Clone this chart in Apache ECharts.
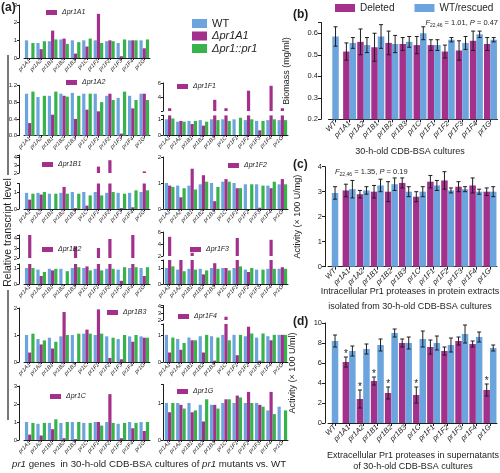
<!DOCTYPE html>
<html><head><meta charset="utf-8">
<script src="https://cdn.jsdelivr.net/npm/echarts@6.0.0/dist/echarts.min.js"></script>
<style>html,body{margin:0;padding:0;background:#fff}#c{width:500px;height:473px}</style>
</head><body><div id="c"></div>
<script>
// ---------- DATA ----------
const genes = ['pr1A1','pr1A2','pr1B1','pr1B2','pr1B3','pr1C','pr1F1','pr1F2','pr1F3','pr1F4','pr1G'];
const bdCats = ['WT','pr1A1','pr1A2','pr1B1','pr1B2','pr1B3','pr1C','pr1F1','pr1F2','pr1F3','pr1F4','pr1G'];

// (a) relative transcript levels: WT, deletion mutant, rescued
const wt_A1  = [1.0,0.85,0.95,1.05,1.0,1.0,1.0,0.95,0.85,1.0,1.0];
const mut_A1 = [0,0.5,1.55,1.1,0.25,0.65,2.5,1.0,0.1,1.0,0.55];
const res_A1 = [0.85,0.95,1.05,0.8,0.9,1.1,0.85,0.95,1.05,1.0,1.05];

const wt_A2  = [1.0,0.92,0.95,1.0,1.02,1.0,1.0,0.95,0.9,0.95,1.0];
const mut_A2 = [0.3,0,0.5,0.95,0.4,0.62,0.58,1.0,0.05,0.65,1.0];
const res_A2 = [1.05,0.95,1.05,0.93,0.95,1.0,0.8,0.85,1.05,0.85,0.85];

const wt_F1  = [1.0,0.85,0.9,0.95,1.0,1.0,1.0,0.95,0.9,0.95,0.95];
const mut_F1 = [2.4,0.9,0.7,0.6,3.6,2.4,0,4.9,0.3,5.6,2.4];
const res_F1 = [1.05,0.85,0.9,0.85,0.95,0.9,1.1,1.0,0.9,1.0,0.95];

const wt_B1  = [0.95,0.95,0.9,0.95,1.0,1.0,1.0,0.95,0.95,0.95,1.0];
const mut_B1 = [0.55,0.85,0,1.3,0.05,0.2,2.8,3.6,0.05,0.1,2.2];
const res_B1 = [0.9,1.0,0.9,0.9,0.9,0.8,0.8,1.0,0.9,1.1,1.1];

const wt_F2  = [1.0,0.9,0.9,0.95,1.0,1.05,1.0,0.95,0.95,0.9,0.95];
const mut_F2 = [0.9,0.45,1.55,1.3,0.3,1.15,0.8,0,0.05,0.8,1.15];
const res_F2 = [0.85,0.8,0.75,1.05,0.85,1.05,0.8,0.95,0.9,1.05,0.95];

const wt_B2  = [1.0,0.9,0.95,0.95,1.0,1.0,0.95,0.95,0.9,1.0,1.0];
const mut_B2 = [4.3,0.5,0.85,0,3.1,1.1,3.0,3.9,0.2,4.3,0.5];
const res_B2 = [1.0,0.75,0.95,0.8,1.05,0.85,0.85,0.95,1.05,1.05,1.05];

const wt_F3  = [1.0,0.9,0.95,0.95,1.0,1.0,1.0,0.9,0.9,0.95,0.95];
const mut_F3 = [5.2,1.7,2.55,0.6,1.3,1.0,5.0,0.75,0,4.7,1.05];
const res_F3 = [1.1,0.8,0.9,0.85,0.95,0.85,1.1,1.0,0.9,0.95,0.95];

const wt_B3  = [1.0,0.85,0.9,0.95,1.0,1.05,1.0,0.95,0.85,0.95,0.95];
const mut_B3 = [0.35,0.65,0.5,1.85,0,1.2,1.95,0.15,0.1,0.75,0.9];
const res_B3 = [1.05,0.8,0.75,1.0,1.05,1.05,1.05,0.9,1.0,1.0,0.9];

const wt_F4  = [1.0,0.85,0.9,0.95,0.95,1.0,1.0,0.95,0.9,0.95,1.0];
const mut_F4 = [0.35,0.45,0.8,0.35,0.05,2.5,0.25,1.3,0.05,0.8,1.0];
const res_F4 = [0.9,0.7,0.8,1.0,0.9,0.8,1.0,1.05,1.05,1.0,1.0];

const wt_C   = [1.0,0.9,0.95,0.95,1.0,0.95,1.0,1.0,0.9,1.0,1.0];
const mut_C  = [0.3,0.25,0.6,0.1,0.05,0,1.0,2.55,0.1,0.65,0.5];
const res_C  = [0.95,0.95,1.15,1.0,1.0,0.95,0.8,0.95,0.95,0.95,1.0];

const wt_G   = [1.0,1.0,1.0,0.95,0.95,1.0,1.0,1.0,1.0,0.8,0.9];
const mut_G  = [0.75,0.95,0.75,0.5,0.95,1.1,1.2,1.3,0.95,1.3,0];
const res_G  = [1.0,0.85,0.8,1.1,0.85,1.1,1.15,1.0,0.9,0.7,0.8];

// (b) biomass (mg/ml)
const bioWT = 0.585, bioWTErr = 0.045;
const bioDel    = [0.515,0.56,0.535,0.555,0.55,0.545,0.545,0.515,0.52,0.565,0.55];
const bioDelErr = [0.04,0.06,0.065,0.055,0.03,0.04,0.025,0.03,0.045,0.045,0.03];
const bioRes    = [0.555,0.545,0.585,0.55,0.56,0.6,0.545,0.57,0.555,0.595,0.57];
const bioResErr = [0.025,0.035,0.055,0.04,0.025,0.03,0.025,0.01,0.03,0.015,0.01];

// (c) intracellular activity (x100 U/mg)
const intraWT = 2.95, intraWTErr = 0.25;
const intraDel    = [3.05,2.9,3.0,3.0,3.35,2.8,3.4,3.45,3.2,3.25,3.0];
const intraDelErr = [0.25,0.15,0.25,0.4,0.2,0.2,0.25,0.35,0.2,0.3,0.15];
const intraRes    = [3.1,3.05,3.25,3.3,3.0,3.0,3.25,3.05,3.1,3.0,3.0];
const intraResErr = [0.35,0.15,0.25,0.25,0.2,0.2,0.2,0.1,0.1,0.1,0.2];

// (d) extracellular activity (x100 U/ml)
const extraWT = 8.2, extraWTErr = 0.6;
const extraDel    = [6.1,2.4,4.2,3.0,8.0,2.8,7.6,7.2,8.2,7.9,3.3];
const extraDelErr = [0.5,0.9,0.4,0.6,0.4,0.8,0.7,0.4,0.4,0.3,0.6];
const extraRes    = [7.2,7.4,7.8,9.0,8.0,8.4,8.0,7.8,8.9,8.6,7.5];
const extraResErr = [0.5,0.5,0.6,0.4,0.6,0.8,0.7,0.7,0.9,0.5,0.3];
const extraSig    = [1,1,1,1,0,1,0,0,0,0,1];

// ---------- STYLE / LAYOUT ----------
const FONT = '"Liberation Sans", Arial, sans-serif';
const INK = '#1e1e1e';
const COL = {wt:'#6ca4de', mut:'#a3318c', res:'#38b24a'};
const LCOL = {left:24, width:126, off:5};
const RCOL = {left:164, width:124, off:1};

const aSpecs = [
 {name:'Δpr1A1', data:[wt_A1,mut_A1,res_A1], col:LCOL, leg:[46,9],
  segs:[{top:5,bottom:58,min:0,max:3,interval:1}]},
 {name:'Δpr1A2', data:[wt_A2,mut_A2,res_A2], col:LCOL, leg:[66,79],
  segs:[{top:85.3,bottom:135.7,min:0,max:1.2,interval:0.4,dec:1}]},
 {name:'Δpr1F1', data:[wt_F1,mut_F1,res_F1], col:RCOL, leg:[177,83],
  segs:[{top:115.4,bottom:135,min:0,max:1.25,interval:1},{top:83,bottom:111,min:2,max:6,interval:2,hideMin:true}]},
 {name:'Δpr1B1', data:[wt_B1,mut_B1,res_B1], col:LCOL, leg:[42,161],
  segs:[{top:183.5,bottom:209,min:0,max:1.5,interval:1},{top:155,bottom:173,min:2,max:4.25,interval:1}]},
 {name:'Δpr1F2', data:[wt_F2,mut_F2,res_F2], col:RCOL, leg:[228,162],
  segs:[{top:157,bottom:209,min:0,max:2,interval:1}]},
 {name:'Δpr1B2', data:[wt_B2,mut_B2,res_B2], col:LCOL, leg:[42,246],
  segs:[{top:264,bottom:284,min:0,max:1.25,interval:1},{top:235,bottom:258,min:2,max:4.3,interval:1}]},
 {name:'Δpr1F3', data:[wt_F3,mut_F3,res_F3], col:RCOL, leg:[190,246],
  segs:[{top:260,bottom:284,min:0,max:1.5,interval:1},{top:232,bottom:256,min:2,max:6,interval:2}]},
 {name:'Δpr1B3', data:[wt_B3,mut_B3,res_B3], col:LCOL, leg:[107,309],
  segs:[{top:308,bottom:362,min:0,max:2,interval:1}]},
 {name:'Δpr1F4', data:[wt_F4,mut_F4,res_F4], col:RCOL, leg:[178,313],
  segs:[{top:324,bottom:362,min:0,max:1.4,interval:1},{top:305.5,bottom:320,min:2,max:4.2,interval:1}]},
 {name:'Δpr1C', data:[wt_C,mut_C,res_C], col:LCOL, leg:[50,393],
  segs:[{top:386,bottom:440,min:0,max:3,interval:1}]},
 {name:'Δpr1G', data:[wt_G,mut_G,res_G], col:RCOL, leg:[177,388],
  segs:[{top:384.5,bottom:440,min:0,max:1.5,interval:1}]}
];

const panels = [
 {wt:bioWT, wtErr:bioWTErr, del:bioDel, delErr:bioDelErr, res:bioRes, resErr:bioResErr, sig:null,
  min:0.2, max:0.65, interval:0.1, dec:1, left:328.5, width:169, top:22.5, height:96.8, off:7.5,
  name:'Biomass (mg/ml)', nameGap:30},
 {wt:intraWT, wtErr:intraWTErr, del:intraDel, delErr:intraDelErr, res:intraRes, resErr:intraResErr, sig:null,
  min:0, max:4, interval:1, dec:0, left:328, width:169, top:166.7, height:100, off:3,
  name:'Activity (× 100 U/mg)', nameGap:23},
 {wt:extraWT, wtErr:extraWTErr, del:extraDel, delErr:extraDelErr, res:extraRes, resErr:extraResErr, sig:extraSig,
  min:0, max:10, interval:2, dec:0, left:328, width:169, top:323, height:100, off:3,
  name:'Activity (× 100 U/ml)', nameGap:28}
];

// ---------- BUILD ----------
const grids=[], xAxes=[], yAxes=[], series=[], legends=[];
const addGrid = g => (grids.push(g), grids.length-1);
const addX = a => (xAxes.push(a), xAxes.length-1);
const addY = a => (yAxes.push(a), yAxes.length-1);

function labelFmt(interval, dec, hideMin, min){
  return function(v){
    const r = v/interval;
    if (Math.abs(r-Math.round(r))>1e-6) return '';
    if (hideMin && Math.abs(v-min)<1e-9) return '';
    return dec ? v.toFixed(dec) : String(Math.round(v));
  };
}

aSpecs.forEach(sp => {
  sp.segs.forEach((sg, k) => {
    const gi = addGrid({left:sp.col.left, width:sp.col.width, top:sg.top, height:sg.bottom-sg.top});
    const xi = addX({type:'category', gridIndex:gi, data:genes, show:k===0,
      axisLine:{show:true, lineStyle:{color:INK, width:1}},
      axisTick:{show:true, alignWithLabel:true, length:2, lineStyle:{color:INK}},
      axisLabel:{interval:0, rotate:45, fontSize:5.5, fontStyle:'italic', fontFamily:FONT, color:INK, margin:2}});
    const yi = addY({type:'value', gridIndex:gi, min:sg.min, max:sg.max, interval:sg.interval, offset:sp.col.off,
      splitLine:{show:false},
      axisLine:{show:true, lineStyle:{color:INK, width:1}},
      axisTick:{show:true, length:2, lineStyle:{color:INK}},
      axisLabel:{fontSize:6, fontFamily:FONT, color:INK, margin:2,
        formatter:labelFmt(sg.interval, sg.dec||0, sg.hideMin, sg.min)}});
    const names = ['WT', sp.name, 'Δpr1::pr1'];
    const cols = [COL.wt, COL.mut, COL.res];
    sp.data.forEach((arr, j) => series.push({type:'bar', name:names[j], xAxisIndex:xi, yAxisIndex:yi,
      data:arr, barWidth:3.2, barGap:'0%', itemStyle:{color:cols[j]}, silent:true}));
  });
  legends.push({data:[sp.name], left:sp.leg[0], top:sp.leg[1], padding:0, icon:'rect',
    itemWidth:11, itemHeight:5, selectedMode:false,
    textStyle:{fontSize:7, fontStyle:'italic', fontFamily:FONT, color:INK}});
});

legends.push({data:['WT','Δpr1A1','Δpr1::pr1'], orient:'vertical', left:192, top:18, padding:0, icon:'rect',
  itemWidth:15, itemHeight:9, itemGap:1.5, selectedMode:false,
  formatter: n => n==='WT' ? n : '{i|'+n+'}',
  textStyle:{fontSize:11, fontFamily:FONT, color:INK, rich:{i:{fontSize:11, fontStyle:'italic', fontFamily:FONT, color:INK}}}});

const BW = 6.5;
function errRender(params, api){
  const i = api.value(0), v = api.value(1), e = api.value(2), sh = api.value(3), st = api.value(4);
  const pt = api.coord([i, v+e]), pb = api.coord([i, v-e]);
  const x = pt[0] + sh, cw = 2;
  const style = {stroke:INK, lineWidth:1};
  const ch = [
    {type:'line', shape:{x1:x, y1:pt[1], x2:x, y2:pb[1]}, style},
    {type:'line', shape:{x1:x-cw, y1:pt[1], x2:x+cw, y2:pt[1]}, style},
    {type:'line', shape:{x1:x-cw, y1:pb[1], x2:x+cw, y2:pb[1]}, style}
  ];
  if (st) ch.push({type:'text', style:{text:'*', x:x, y:pt[1]+2, align:'center', verticalAlign:'bottom',
    fontSize:10, fontFamily:FONT, fill:INK}});
  return {type:'group', children:ch};
}

panels.forEach(p => {
  const gi = addGrid({left:p.left, width:p.width, top:p.top, height:p.height});
  const xi = addX({type:'category', gridIndex:gi, data:bdCats,
    axisLine:{show:true, lineStyle:{color:INK, width:1}},
    axisTick:{show:true, alignWithLabel:true, length:3, lineStyle:{color:INK}},
    axisLabel:{interval:0, rotate:45, fontSize:7.5, fontStyle:'italic', fontFamily:FONT, color:INK, margin:3}});
  const xh = addX({type:'category', gridIndex:gi, data:bdCats, show:false});
  const yi = addY({type:'value', gridIndex:gi, min:p.min, max:p.max, interval:p.interval, offset:p.off,
    splitLine:{show:false},
    axisLine:{show:true, lineStyle:{color:INK, width:1}},
    axisTick:{show:true, length:3, lineStyle:{color:INK}},
    axisLabel:{fontSize:7.5, fontFamily:FONT, color:INK, margin:3, formatter:labelFmt(p.interval, p.dec, false, p.min)},
    name:p.name, nameLocation:'middle', nameGap:p.nameGap, nameRotate:90,
    nameTextStyle:{fontSize:9, fontFamily:FONT, color:INK}});
  series.push({type:'bar', name:'Deleted', xAxisIndex:xi, yAxisIndex:yi, data:['-'].concat(p.del),
    barWidth:BW, barGap:'0%', itemStyle:{color:COL.mut}, silent:true});
  series.push({type:'bar', name:'WT/rescued', xAxisIndex:xi, yAxisIndex:yi, data:['-'].concat(p.res),
    barWidth:BW, barGap:'0%', itemStyle:{color:COL.wt}, silent:true});
  series.push({type:'bar', name:'WT/rescued', xAxisIndex:xh, yAxisIndex:yi,
    data:[p.wt].concat(genes.map(() => '-')), barWidth:BW, itemStyle:{color:COL.wt}, silent:true});
  const ed = [[0, p.wt, p.wtErr, 0, 0]];
  p.del.forEach((v,i) => ed.push([i+1, v, p.delErr[i], -BW/2, p.sig ? p.sig[i] : 0]));
  p.res.forEach((v,i) => ed.push([i+1, v, p.resErr[i], BW/2, 0]));
  series.push({type:'custom', xAxisIndex:xi, yAxisIndex:yi, data:ed, renderItem:errRender,
    encode:{x:0, y:1}, silent:true, z:5, clip:false});
});

legends.push({data:['Deleted','WT/rescued'], left:335, top:3, padding:0, icon:'rect',
  itemWidth:20, itemHeight:8, itemGap:20, selectedMode:false,
  textStyle:{fontSize:10, fontFamily:FONT, color:INK}});

const T = (txt, x, y, o) => Object.assign({type:'text', x:x, y:y, silent:true,
  style:Object.assign({text:txt, fontFamily:FONT, fontSize:9, fill:INK}, o||{})});
const subRich = {
  i:{fontStyle:'italic', fontSize:7.5, fontFamily:FONT, fill:INK, lineHeight:10},
  n:{fontSize:7.5, fontFamily:FONT, fill:INK, lineHeight:10},
  s:{fontSize:5, fontFamily:FONT, fill:INK, verticalAlign:'bottom', lineHeight:7}
};
const graphics = [
  T('(a)', 1, 2, {fontSize:12, fontWeight:'bold'}),
  T('(b)', 293, 9, {fontSize:12, fontWeight:'bold'}),
  T('(c)', 293, 159, {fontSize:12, fontWeight:'bold'}),
  T('(d)', 293, 316, {fontSize:12, fontWeight:'bold'}),
  {type:'line', silent:true, shape:{x1:8, y1:55, x2:8, y2:175}, style:{stroke:INK, lineWidth:1.2}},
  {type:'line', silent:true, shape:{x1:8, y1:290, x2:8, y2:420}, style:{stroke:INK, lineWidth:1.2}},
  {type:'text', silent:true, x:8, y:232.5, rotation:Math.PI/2,
    style:{text:'Relative transcript level', fontFamily:FONT, fontSize:10.5, fill:INK, align:'center', verticalAlign:'middle'}},
  T('{i|pr1} genes  in 30-h-old CDB-BSA cultures of {i|pr1} mutants vs. WT', 12, 464,
    {fontSize:9.7, verticalAlign:'middle', rich:{i:{fontStyle:'italic', fontSize:9.7, fontFamily:FONT, fill:INK}}}),
  T('{i|F}{s|22,46}{n| = 1.01, }{i|P}{n| = 0.47}', 498, 23, {align:'right', verticalAlign:'middle', rich:subRich}),
  T('{i|F}{s|22,46}{n| = 1.35, }{i|P}{n| = 0.19}', 335, 172, {align:'left', verticalAlign:'middle', rich:subRich}),
  T('30-h-old CDB-BSA cultures', 410, 152, {align:'center', verticalAlign:'middle', fontSize:9}),
  T('Intracellular Pr1 proteases in protein extracts', 410, 292, {align:'center', verticalAlign:'middle', fontSize:9}),
  T('isolated from 30-h-old CDB-BSA cultures', 410, 307, {align:'center', verticalAlign:'middle', fontSize:9}),
  T('Extracellular Pr1 proteases in supernatants', 413, 456, {align:'center', verticalAlign:'middle', fontSize:9}),
  T('of 30-h-old CDB-BSA cultures', 413, 467, {align:'center', verticalAlign:'middle', fontSize:9})
];

const chart = echarts.init(document.getElementById('c'), null, {renderer:'canvas'});
chart.setOption({
  animation:false,
  backgroundColor:'#ffffff',
  grid:grids, xAxis:xAxes, yAxis:yAxes, series:series, legend:legends,
  graphic:{elements:graphics}
});
</script>
</body></html>
